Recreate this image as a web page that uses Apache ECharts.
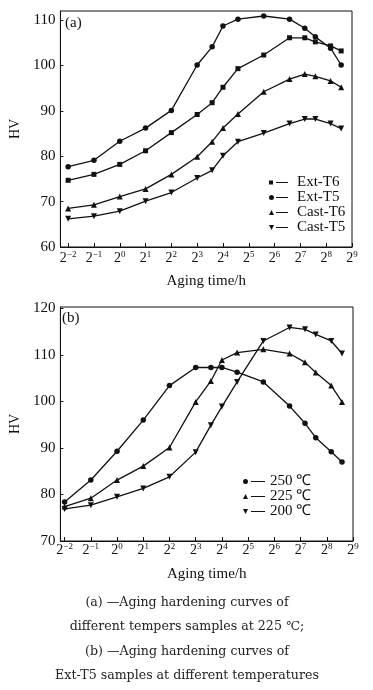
<!DOCTYPE html>
<html>
<head>
<meta charset="utf-8">
<script src="https://cdn.jsdelivr.net/npm/echarts@6/dist/echarts.min.js"></script>
<style>
html,body{margin:0;padding:0;background:#fff;}
#chart{width:373px;height:690px;}
</style>
</head>
<body>
<div id="chart"></div>
<script>
// aging time positions (log2 of hours)
const agingLog2 = [-2, -1, 0, 1, 2, 3, 3.58, 4, 4.58, 5.58, 6.58, 7.17, 7.58, 8.17, 8.58];
const xTickExp = [-2, -1, 0, 1, 2, 3, 4, 5, 6, 7, 8, 9];

// (a) different tempers at 225 C
const namesA = ['Ext-T6', 'Ext-T5', 'Cast-T6', 'Cast-T5'];
const extT6 = [74.7, 76.0, 78.2, 81.2, 85.2, 89.2, 91.8, 95.2, 99.3, 102.3, 106.1, 106.1, 105.2, 104.3, 103.2];
const extT5 = [77.7, 79.1, 83.3, 86.2, 90.1, 100.1, 104.1, 108.7, 110.2, 110.9, 110.2, 108.2, 106.3, 103.8, 100.1];
const castT6 = [68.5, 69.3, 71.1, 72.8, 76.0, 79.9, 83.2, 86.2, 89.3, 94.2, 97.0, 98.1, 97.6, 96.6, 95.2];
const castT5 = [66.2, 66.8, 67.9, 70.1, 72.0, 75.2, 76.9, 80.1, 83.2, 85.1, 87.2, 88.2, 88.2, 87.2, 86.1];
const yTicksA = [60, 70, 80, 90, 100, 110];

// (b) Ext-T5 at different temperatures
const namesB = ['250 ℃', '225 ℃', '200 ℃'];
const t250 = [78.4, 83.1, 89.3, 96.0, 103.4, 107.3, 107.3, 107.3, 106.3, 104.2, 99.0, 95.3, 92.2, 89.2, 87.0];
const t225 = [77.4, 79.2, 83.1, 86.1, 90.1, 99.9, 104.4, 108.9, 110.5, 111.2, 110.3, 108.4, 106.2, 103.4, 99.9];
const t200 = [76.9, 77.7, 79.5, 81.3, 83.8, 89.1, 94.9, 98.9, 104.2, 113.0, 115.9, 115.5, 114.4, 113.0, 110.3];
const yTicksB = [70, 80, 90, 100, 110, 120];

const captionLines = [
  '(a) —Aging hardening curves of',
  'different tempers samples at 225 ℃;',
  '(b) —Aging hardening curves of',
  'Ext-T5 samples at different temperatures'
];

const SERIF = '"Liberation Serif", "Times New Roman", serif';

function pairs(ys) { return ys.map((y, i) => [agingLog2[i], y]); }

function xAxisFor(gi, min, margin, gap) {
  return {
    type: 'value', gridIndex: gi, min: min, max: 9,
    name: 'Aging time/h', nameLocation: 'middle', nameGap: gap,
    nameTextStyle: { fontFamily: SERIF, fontSize: 15, color: '#111' },
    axisLine: { onZero: false, lineStyle: { color: '#111', width: 1 } },
    axisTick: { inside: true, length: 4, customValues: xTickExp, lineStyle: { color: '#111' } },
    splitLine: { show: false },
    axisLabel: {
      customValues: xTickExp, margin: margin, color: '#111',
      formatter: v => '{b|2}{s|' + (v < 0 ? '−' + (-v) : v) + '}',
      rich: {
        b: { fontFamily: SERIF, fontSize: 14, lineHeight: 16, color: '#111' },
        s: { fontFamily: SERIF, fontSize: 9, lineHeight: 9, verticalAlign: 'top', color: '#111' }
      }
    }
  };
}

function yAxisFor(gi, min, max, ticks) {
  return {
    type: 'value', gridIndex: gi, min: min, max: max,
    name: 'HV', nameLocation: 'middle', nameGap: 36, nameRotate: 90,
    nameTextStyle: { fontFamily: SERIF, fontSize: 14, color: '#111' },
    axisLine: { show: true, onZero: false, lineStyle: { color: '#111' } },
    axisTick: { show: true, inside: true, length: 3, customValues: ticks, lineStyle: { color: '#111' } },
    splitLine: { show: false },
    axisLabel: { customValues: ticks, fontFamily: SERIF, fontSize: 15, color: '#111', margin: 5 }
  };
}

function lineSeries(name, data, xi, yi, symbol, rotate) {
  return {
    type: 'line', name: name, xAxisIndex: xi, yAxisIndex: yi,
    data: pairs(data), symbol: symbol, symbolRotate: rotate || 0,
    symbolSize: symbol === 'rect' ? 5 : (symbol === 'circle' ? 5.5 : 6),
    itemStyle: { color: '#111' },
    lineStyle: { color: '#111', width: 1.3 },
    animation: false, z: 3
  };
}

const lineSeg = (x0, x1) => ' M' + x0 + ',2h' + (x1 - x0) + 'v1h-' + (x1 - x0) + 'z';
function icons(w, l0) {
  return {
    rect: 'path://M0,0.5h4v4h-4z' + lineSeg(l0, w) + ' M0,0h0.01v5h-0.01z M' + w + ',0h0.01v5h-0.01z',
    circle: 'path://M0,2.5a2.5,2.5 0 1,0 5,0a2.5,2.5 0 1,0 -5,0z' + lineSeg(l0, w),
    up: 'path://M2.5,0L5,5L0,5z' + lineSeg(l0, w),
    down: 'path://M0,0L5,0L2.5,5z' + lineSeg(l0, w)
  };
}
const iconA = icons(19, 7);
const iconB = icons(22, 8);

const option = {
  backgroundColor: '#fff',
  animation: false,
  grid: [
    { left: 58, top: 11, width: 294, height: 236, show: true, borderColor: '#111', borderWidth: 1 },
    { left: 58, top: 307, width: 295, height: 234, show: true, borderColor: '#111', borderWidth: 1 }
  ],
  xAxis: [xAxisFor(0, -2.3, 3, 27), xAxisFor(1, -2.16, 1, 26)],
  yAxis: [yAxisFor(0, 60, 112, yTicksA), yAxisFor(1, 70, 120.3, yTicksB)],
  legend: [
    {
      orient: 'vertical', left: 264, top: 170, itemWidth: 19, itemHeight: 5, itemGap: 0,
      textStyle: { fontFamily: SERIF, fontSize: 15, lineHeight: 14.7, color: '#111', padding: [0, 0, 0, 4] },
      selectedMode: false,
      data: [
        { name: namesA[0], icon: iconA.rect },
        { name: namesA[1], icon: iconA.circle },
        { name: namesA[2], icon: iconA.up },
        { name: namesA[3], icon: iconA.down }
      ]
    },
    {
      orient: 'vertical', left: 238, top: 469, itemWidth: 22, itemHeight: 5, itemGap: 0,
      textStyle: { fontFamily: SERIF, fontSize: 15, lineHeight: 14.3, color: '#111' },
      selectedMode: false,
      data: [
        { name: namesB[0], icon: iconB.circle },
        { name: namesB[1], icon: iconB.up },
        { name: namesB[2], icon: iconB.down }
      ]
    }
  ],
  series: [
    lineSeries(namesA[0], extT6, 0, 0, 'rect'),
    lineSeries(namesA[1], extT5, 0, 0, 'circle'),
    lineSeries(namesA[2], castT6, 0, 0, 'triangle'),
    lineSeries(namesA[3], castT5, 0, 0, 'triangle', 180),
    lineSeries(namesB[0], t250, 1, 1, 'circle'),
    lineSeries(namesB[1], t225, 1, 1, 'triangle'),
    lineSeries(namesB[2], t200, 1, 1, 'triangle', 180)
  ],
  graphic: [
    { type: 'text', left: 65, top: 16, style: { text: '(a)', font: '15px ' + SERIF, fill: '#111' } },
    { type: 'text', left: 62, top: 311, style: { text: '(b)', font: '15px ' + SERIF, fill: '#111' } }
  ].concat(captionLines.map((t, i) => ({
    type: 'text', x: 187, y: 603 + i * 24.2,
    style: { text: t, font: '12.6px "DejaVu Serif", serif', fill: '#222', align: 'center', verticalAlign: 'middle' }
  })))
};

const chart = echarts.init(document.getElementById('chart'), null, { renderer: 'canvas' });
chart.setOption(option);
</script>
</body>
</html>
